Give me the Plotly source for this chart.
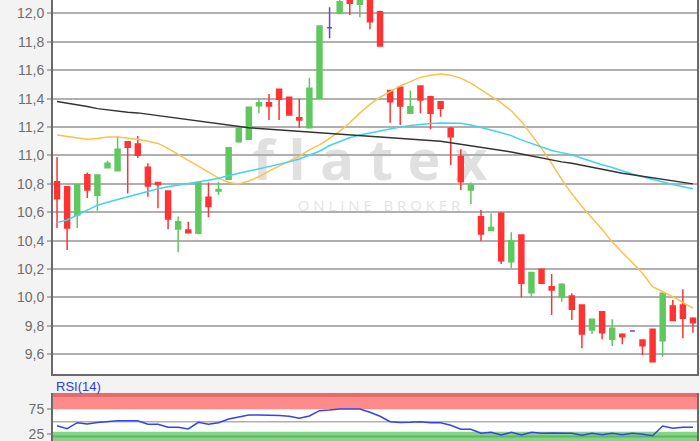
import plotly.graph_objects as go

# ---- data ----
idx = list(range(64))
open_ = [10.815, 10.78, 10.58, 10.865, 10.72, 10.914, 10.893, 11.097, 11.081, 10.917,
         10.81, 10.75, 10.482, 10.475, 10.452, 10.706, 10.75, 10.832, 11.097, 11.114,
         11.35, 11.372, 11.466, 11.41, 11.266, 11.196, 11.403, 11.90, 12.0, 12.10,
         12.065, 12.12, 12.013, 11.457, 11.48, 11.297, 11.489, 11.414, 11.379, 11.192,
         10.992, 10.757, 10.569, 10.471, 10.593, 10.252, 10.44, 10.034, 10.199, 10.076,
         10.001, 10.011, 9.947, 9.771, 9.90, 9.706, 9.741, 9.764, 9.70, 9.776,
         9.696, 9.94, 9.947, 9.853]
high = [10.99, 10.785, 10.80, 10.88, 10.865, 10.963, 11.137, 11.10, 11.137, 10.945,
        10.815, 10.755, 10.57, 10.534, 10.81, 10.81, 10.815, 11.055, 11.20, 11.345,
        11.396, 11.433, 11.47, 11.41, 11.40, 11.548, 11.912, 12.044, 12.12, 12.12,
        12.13, 12.15, 12.02, 11.46, 11.48, 11.457, 11.49, 11.42, 11.38, 11.20,
        11.044, 10.81, 10.616, 10.593, 10.60, 10.459, 10.44, 10.18, 10.20, 10.165,
        10.10, 10.03, 9.95, 9.85, 9.90, 9.847, 9.748, 9.764, 9.70, 9.776,
        10.03, 9.982, 10.058, 9.86]
low = [10.49, 10.335, 10.49, 10.70, 10.61, 10.91, 10.89, 10.733, 10.982, 10.71,
       10.628, 10.48, 10.318, 10.456, 10.445, 10.565, 10.722, 10.83, 11.09, 11.11,
       11.297, 11.25, 11.25, 11.28, 11.196, 11.196, 11.40, 11.825, 12.0, 11.99,
       11.973, 11.889, 11.77, 11.231, 11.215, 11.297, 11.297, 11.185, 11.273, 10.933,
       10.757, 10.658, 10.398, 10.47, 10.236, 10.206, 10.001, 10.001, 10.10, 9.877,
       9.97, 9.842, 9.642, 9.743, 9.706, 9.658, 9.671, 9.764, 9.595, 9.545,
       9.583, 9.837, 9.713, 9.752]
close = [10.695, 10.49, 10.795, 10.757, 10.863, 10.945, 11.044, 11.058, 11.001, 10.785,
         10.795, 10.553, 10.534, 10.456, 10.808, 10.64, 10.76, 11.055, 11.192, 11.339,
         11.372, 11.349, 11.396, 11.285, 11.25, 11.473, 11.912, 11.90, 12.083, 12.072,
         12.11, 11.942, 11.771, 11.379, 11.349, 11.344, 11.391, 11.297, 11.332, 11.132,
         10.815, 10.792, 10.447, 10.492, 10.259, 10.40, 10.10, 10.175, 10.10, 10.053,
         10.093, 9.917, 9.743, 9.847, 9.752, 9.784, 9.724, 9.764, 9.66, 9.548,
         10.03, 9.837, 9.853, 9.822]

ma_black = [11.38, 11.37, 11.355, 11.345, 11.33, 11.32, 11.315, 11.305, 11.30, 11.29,
            11.285, 11.275, 11.265, 11.255, 11.245, 11.235, 11.225, 11.215, 11.20, 11.195,
            11.19, 11.185, 11.18, 11.175, 11.17, 11.165, 11.16, 11.155, 11.15, 11.145,
            11.14, 11.14, 11.135, 11.13, 11.125, 11.12, 11.11, 11.105, 11.10, 11.09,
            11.08, 11.07, 11.06, 11.05, 11.04, 11.025, 11.01, 10.995, 10.98, 10.97,
            10.955, 10.945, 10.93, 10.915, 10.90, 10.89, 10.875, 10.865, 10.855, 10.845,
            10.835, 10.825, 10.815, 10.80]
ma_cyan = [10.527, 10.546, 10.58, 10.615, 10.65, 10.67, 10.69, 10.71, 10.73, 10.75,
           10.765, 10.78, 10.79, 10.80, 10.81, 10.825, 10.84, 10.86, 10.875, 10.89,
           10.905, 10.92, 10.935, 10.955, 10.975, 11.00, 11.03, 11.07, 11.10, 11.125,
           11.145, 11.16, 11.175, 11.19, 11.20, 11.212, 11.22, 11.225, 11.228, 11.228,
           11.227, 11.215, 11.20, 11.18, 11.16, 11.14, 11.11, 11.085, 11.055, 11.035,
           11.02, 11.005, 10.98, 10.955, 10.935, 10.915, 10.89, 10.87, 10.85, 10.83,
           10.81, 10.795, 10.78, 10.765]
ma_orange = [11.144, 11.135, 11.125, 11.115, 11.12, 11.13, 11.13, 11.125, 11.115, 11.10,
             11.085, 11.05, 11.005, 10.965, 10.925, 10.88, 10.84, 10.81, 10.80, 10.82,
             10.85, 10.89, 10.925, 10.96, 10.995, 11.04, 11.075, 11.12, 11.17, 11.23,
             11.30, 11.36, 11.41, 11.45, 11.49, 11.52, 11.55, 11.565, 11.574, 11.565,
             11.545, 11.51, 11.465, 11.415, 11.37, 11.315, 11.24, 11.145, 11.05, 10.945,
             10.83, 10.73, 10.64, 10.56, 10.48, 10.39, 10.32, 10.245, 10.17, 10.076,
             10.04, 10.006, 9.965, 9.925]
rsi = [41.9, 36, 48, 45.4, 48.5, 50.5, 52, 52, 52, 45,
       44.7, 38.7, 38.7, 35.3, 48.7, 44.7, 48, 55.5, 60, 63.5,
       63.5, 63.5, 62.5, 61, 57, 61.5, 72.2, 73.6, 75.6, 75.6,
       75.6, 69, 61, 50, 48.5, 49, 50, 48, 48, 43,
       35, 34.7, 26.6, 28.6, 23.2, 28.6, 23.2, 28.6, 26.6, 27,
       26.6, 26.6, 22.6, 26.6, 23.8, 26.6, 23.8, 26.6, 24.6, 21.8,
       41.3, 36.7, 38.7, 38.7]

price_ticks = [9.6, 9.8, 10.0, 10.2, 10.4, 10.6, 10.8, 11.0, 11.2, 11.4, 11.6, 11.8, 12.0]
price_tick_text = ["9,6", "9,8", "10,0", "10,2", "10,4", "10,6", "10,8", "11,0",
                   "11,2", "11,4", "11,6", "11,8", "12,0"]
rsi_ticks = [25, 75]
rsi_tick_text = ["25", "75"]
rsi_title = "RSI(14)"

# ---- split regular candles and doji (open == close) ----
is_doji = [o == c for o, c in zip(open_, close)]
def pick(arr, keep):
    return [v if k else None for v, k in zip(arr, keep)]
norm = [not d for d in is_doji]

GREEN = "#5fc85f"
RED = "#ff3333"
PURPLE = "#6a44d6"

fig = go.Figure()
fig.add_trace(go.Candlestick(
    x=idx, open=pick(open_, norm), high=pick(high, norm), low=pick(low, norm),
    close=pick(close, norm),
    increasing=dict(line=dict(color=GREEN, width=1.5), fillcolor=GREEN),
    decreasing=dict(line=dict(color=RED, width=1.5), fillcolor=RED),
    xaxis="x", yaxis="y", showlegend=False, hoverinfo="skip"))
fig.add_trace(go.Candlestick(
    x=idx, open=pick(open_, is_doji), high=pick(high, is_doji), low=pick(low, is_doji),
    close=pick(close, is_doji),
    increasing=dict(line=dict(color=PURPLE, width=1.5), fillcolor=PURPLE),
    decreasing=dict(line=dict(color=PURPLE, width=1.5), fillcolor=PURPLE),
    xaxis="x", yaxis="y", showlegend=False, hoverinfo="skip"))

fig.add_trace(go.Scatter(x=idx, y=ma_orange, mode="lines",
                         line=dict(color="#ffc04a", width=1.5), showlegend=False))
fig.add_trace(go.Scatter(x=idx, y=ma_cyan, mode="lines",
                         line=dict(color="#3fd4f2", width=1.5), showlegend=False))
fig.add_trace(go.Scatter(x=idx, y=ma_black, mode="lines",
                         line=dict(color="#333333", width=1.5), showlegend=False))

fig.add_trace(go.Scatter(x=idx, y=rsi, mode="lines", xaxis="x2", yaxis="y2",
                         line=dict(color="#3344ee", width=1.5), showlegend=False))

H = 441.0
main_bottom = (H - 374) / H
rsi_top = (H - 392.7) / H

xr = [-0.4, 63.4]
fig.update_layout(
    template="none",
    width=700, height=441,
    margin=dict(l=53, r=3, t=0, b=0, pad=0),
    paper_bgcolor="#f3f3f3",
    plot_bgcolor="#ffffff",
    font=dict(family="Liberation Sans, Arial, sans-serif", size=14, color="#6e6e6e"),
    xaxis=dict(domain=[0, 1], range=xr, anchor="y", showgrid=False, zeroline=False,
               showticklabels=False, ticks="", rangeslider=dict(visible=False),
               showline=True, linecolor="#6a6a6a", linewidth=2, automargin=False),
    yaxis=dict(domain=[main_bottom, 1], range=[9.461, 12.095], anchor="x",
               tickvals=price_ticks, ticktext=price_tick_text,
               showgrid=True, gridcolor="#b0b0b0", gridwidth=1.5, zeroline=False,
               ticks="outside", ticklen=4, tickcolor="#b0b0b0", tickwidth=1.5,
               showline=True, linecolor="#6a6a6a", linewidth=2, mirror=True,
               automargin=False, ticklabeloverflow="allow"),
    xaxis2=dict(domain=[0, 1], range=xr, anchor="y2", showgrid=False, zeroline=False,
                showticklabels=False, ticks="", rangeslider=dict(visible=False),
                automargin=False),
    yaxis2=dict(domain=[0, rsi_top], range=[11.1, 108.5], anchor="x2",
                tickvals=rsi_ticks, ticktext=rsi_tick_text, showgrid=False,
                zeroline=False, ticks="outside", ticklen=4, tickcolor="#b0b0b0",
                tickwidth=1.5, showline=True, linecolor="#6a6a6a", linewidth=2,
                mirror=True, automargin=False, ticklabeloverflow="allow"),
    showlegend=False,
)

shapes = [
    dict(type="rect", xref="paper", yref="y2", x0=0, x1=1, y0=75, y1=100,
         fillcolor="#ff8a8a", line=dict(width=0), layer="below"),
    dict(type="rect", xref="paper", yref="y2", x0=0, x1=1, y0=100, y1=108.5,
         fillcolor="#e26d6d", line=dict(width=0), layer="below"),
    dict(type="rect", xref="paper", yref="y2", x0=0, x1=1, y0=11.1, y1=30,
         fillcolor="#86d486", line=dict(width=0), layer="below"),
    dict(type="line", xref="paper", yref="y2", x0=0, x1=1, y0=20, y1=20,
         line=dict(color="#5fb85f", width=2), layer="below"),
    dict(type="line", xref="paper", yref="y2", x0=0, x1=1, y0=50, y1=50,
         line=dict(color="#b0b0b0", width=1.5), layer="below"),
    # watermark
    dict(type="rect", xref="x", yref="y", x0=26.0, x1=36.0, y0=10.85, y1=11.06,
         line=dict(width=0), fillcolor="rgba(0,0,0,0)", layer="below",
         label=dict(text="f l a t e x", textposition="middle center",
                    font=dict(family="Open Sans", size=56, color="#e0e0e0", weight=700))),
    dict(type="rect", xref="x", yref="y", x0=26.9, x1=36.9, y0=10.60, y1=10.69,
         line=dict(width=0), fillcolor="rgba(0,0,0,0)", layer="below",
         label=dict(text="O N L I N E\u00a0\u00a0\u00a0B R O K E R", textposition="middle center",
                    font=dict(family="Open Sans", size=15, color="#e4e4e4"))),
]
fig.update_layout(shapes=shapes)

fig.add_annotation(text=rsi_title, xref="paper", yref="paper", x=0, y=(H - 386) / H,
                   xanchor="left", yanchor="middle", showarrow=False, xshift=1,
                   font=dict(family="Liberation Sans, Arial, sans-serif", size=13,
                             color="#2a3ce6"))

fig.write_html("out.html", config={"displayModeBar": False},
               post_script="document.body.style.margin='0';document.body.style.padding='0';"
                           "document.body.style.overflow='hidden';")
